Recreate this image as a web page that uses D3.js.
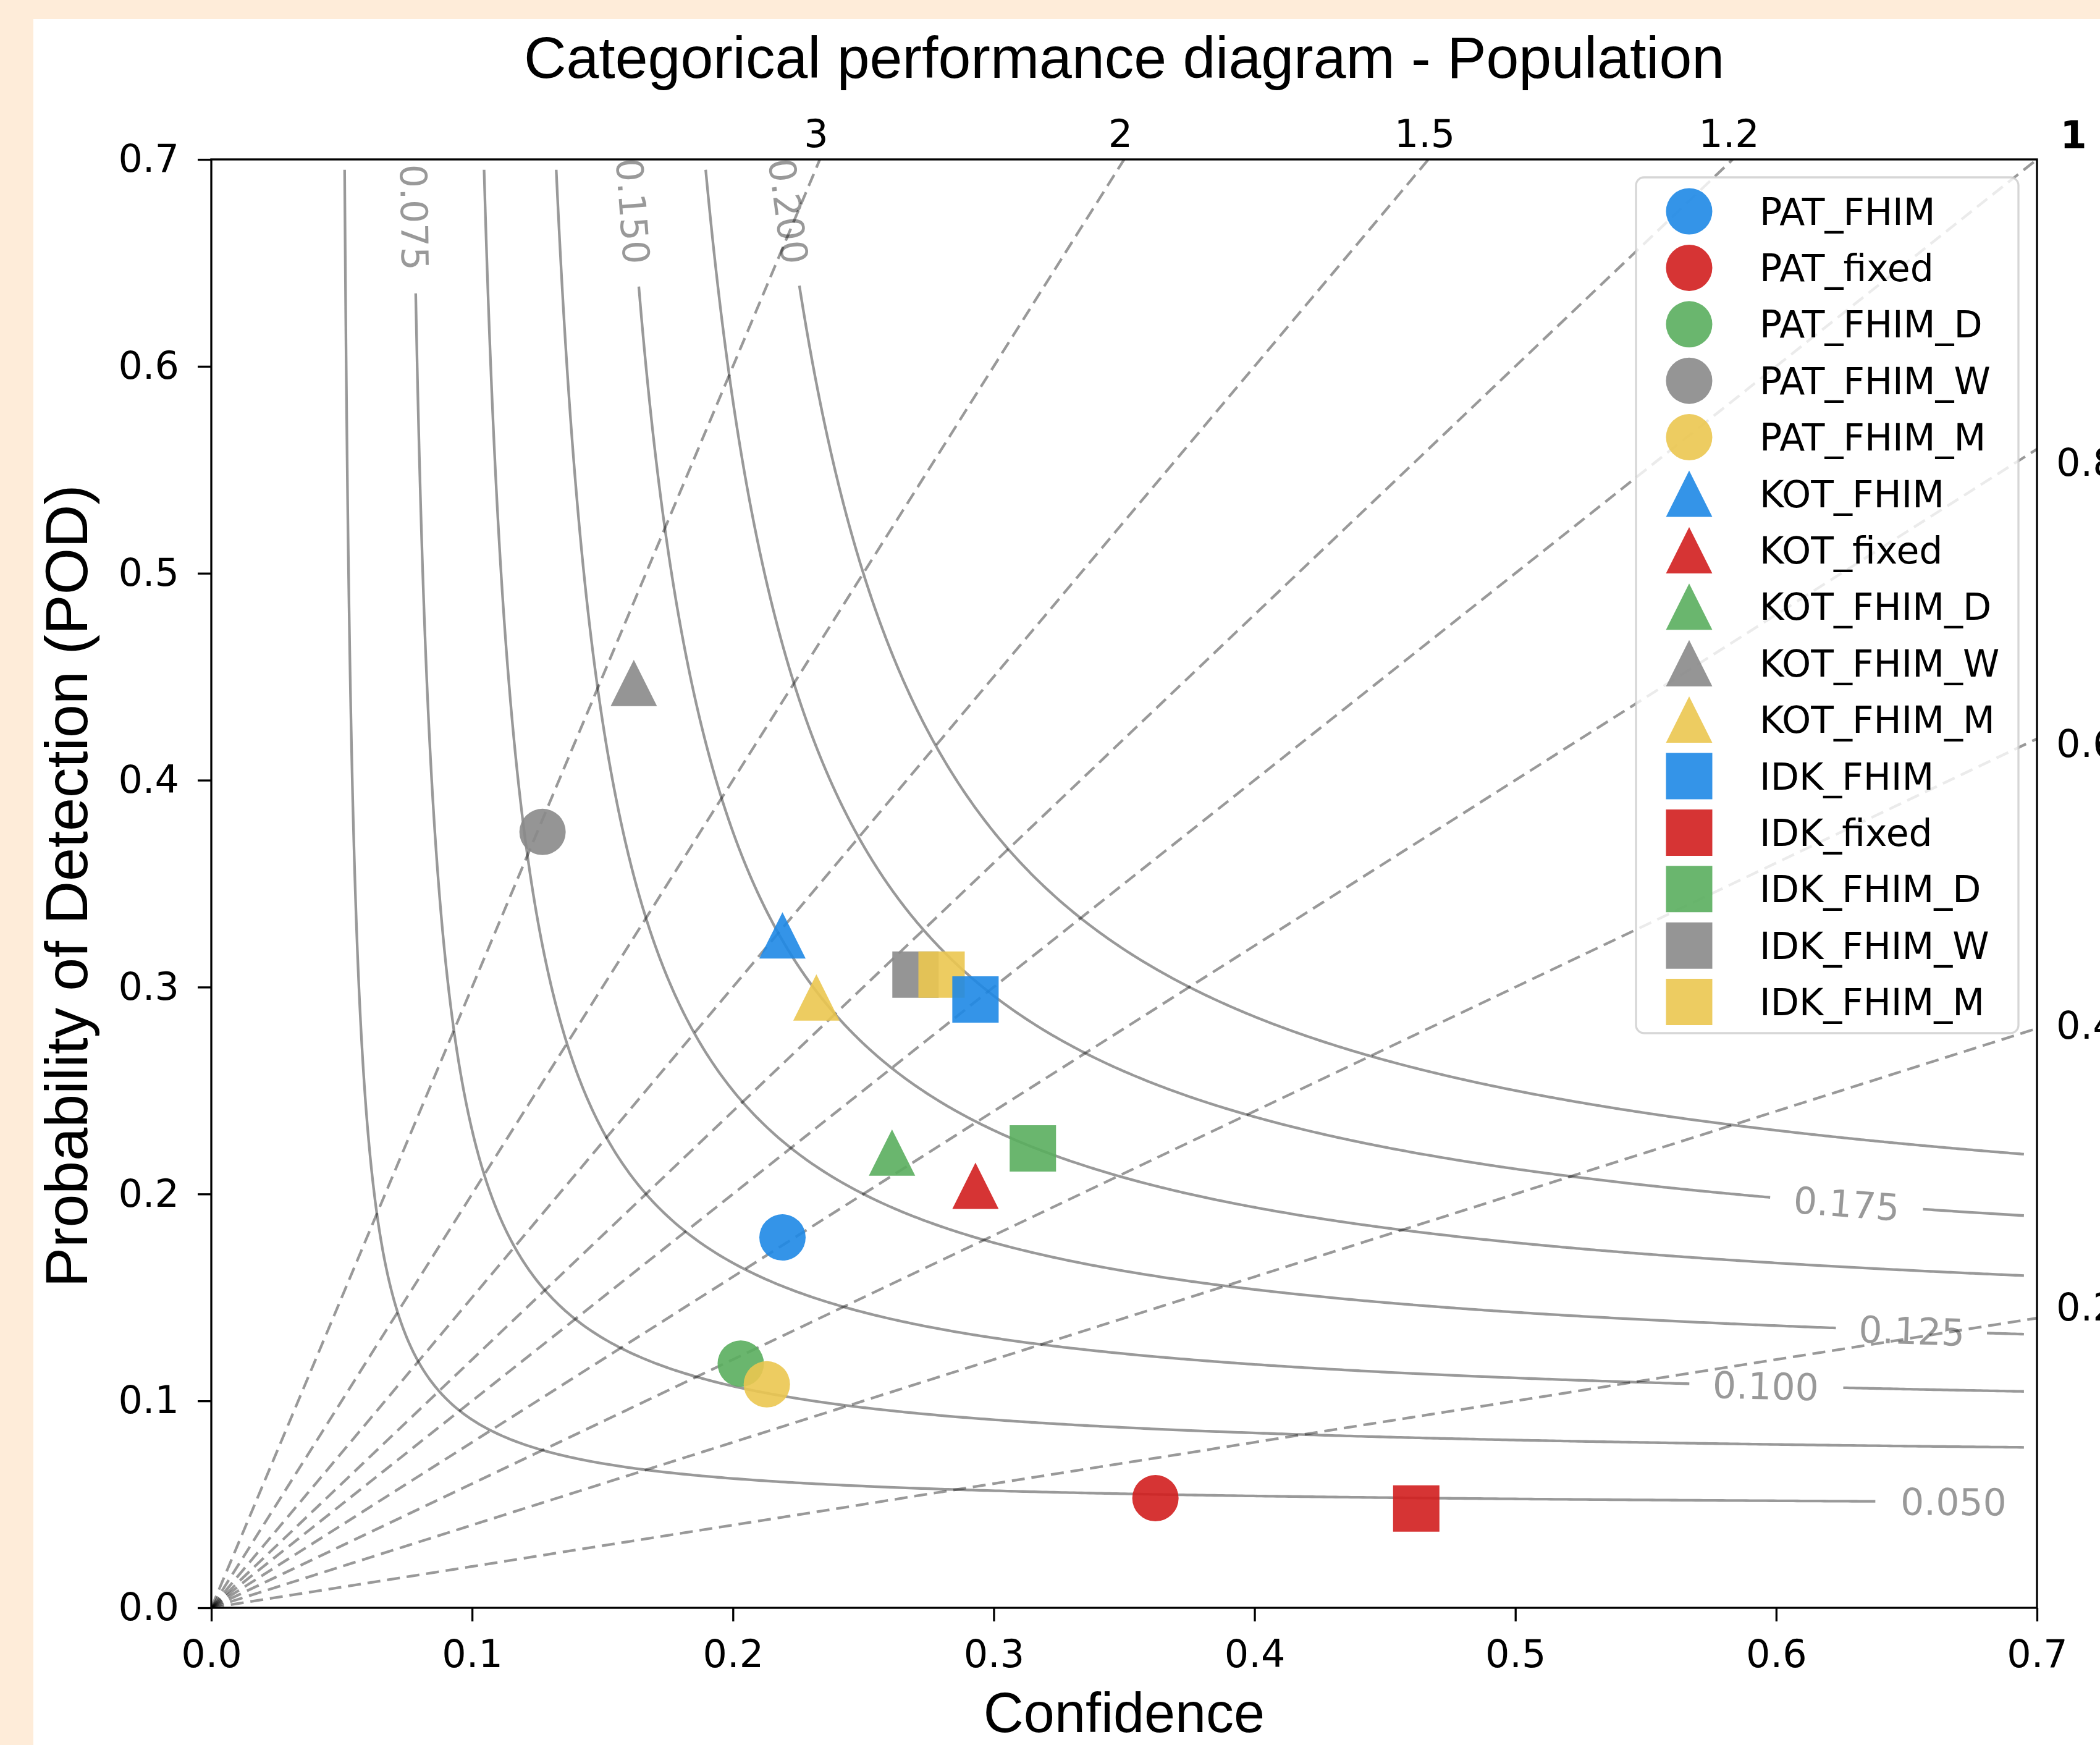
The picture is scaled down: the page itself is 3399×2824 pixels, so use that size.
<!DOCTYPE html>
<html>
<head>
<meta charset="utf-8">
<script src="https://cdn.jsdelivr.net/npm/d3@7"></script>
<style>
	body {margin: 0; background: #feecd9;}
	svg {display: block;}
</style>
</head>
<body>
<div id="chart"></div>
<script>
// values _________________________________________
const variants = ["FHIM", "fixed", "FHIM_D", "FHIM_W", "FHIM_M"]
const variantColors = ["#1e88e5", "#d21e1e", "#5aae5e", "#8a8a8a", "#ebc650"]

const patConfidence = [0.219, 0.362, 0.203, 0.127, 0.213]
const patPOD        = [0.179, 0.053, 0.118, 0.375, 0.108]
const kotConfidence = [0.219, 0.293, 0.261, 0.162, 0.232]
const kotPOD        = [0.325, 0.204, 0.220, 0.447, 0.295]
const idkConfidence = [0.293, 0.462, 0.315, 0.270, 0.280]
const idkPOD        = [0.294, 0.048, 0.222, 0.306, 0.306]

const csiLevels = [0.05, 0.075, 0.1, 0.125, 0.15, 0.175, 0.2]
const biasLevels = [0.2, 0.4, 0.6, 0.8, 1, 1.2, 1.5, 2, 3]
const axisTicks = [0, 0.1, 0.2, 0.3, 0.4, 0.5, 0.6, 0.7]

// where clabel put the csi labels (side of the plot, coordinate along it)
const csiLabelSide = ["right", "top", "right", "right", "top", "right", "top"]
const csiLabelAt   = [0.668, 0.672, 0.596, 0.652, 0.675, 0.627, 0.675]


class perfDiagram {
	constructor(parentElement) {
		this.parentElement = parentElement

		this.data = []
		let sites = [["PAT", "circle", patConfidence, patPOD],
			["KOT", "triangle", kotConfidence, kotPOD],
			["IDK", "square", idkConfidence, idkPOD]]
		sites.forEach(s => {
			variants.forEach((v, i) => {
				this.data.push({name: s[0] + "_" + v, shape: s[1], color: variantColors[i],
					sr: s[2][i], pod: s[3][i], order: v === "FHIM" ? 1 : 0})
			})
		})

		this.initVis()
	}

	initVis() {
		let vis = this

		vis.fullWidth = 3399
		vis.fullHeight = 2824
		vis.margin = {top: 258, right: 102, bottom: 222, left: 342}
		vis.width = vis.fullWidth - vis.margin.left - vis.margin.right
		vis.height = vis.fullHeight - vis.margin.top - vis.margin.bottom
		vis.gridMax = 0.695
		vis.lineW = 4.3

		vis.svg = d3.select("#" + vis.parentElement).append("svg")
			.attr("width", vis.fullWidth)
			.attr("height", vis.fullHeight)

		// peach page with the white figure on it
		vis.svg.append("rect").attr("width", vis.fullWidth).attr("height", vis.fullHeight).attr("fill", "#feecd9")
		vis.svg.append("rect").attr("x", 54).attr("y", 31)
			.attr("width", vis.fullWidth - 54).attr("height", vis.fullHeight - 31).attr("fill", "white")

		vis.g = vis.svg.append("g")
			.attr("transform", `translate(${vis.margin.left},${vis.margin.top})`)

		vis.xScale = d3.scaleLinear().domain([0, 0.7]).range([0, vis.width])
		vis.yScale = d3.scaleLinear().domain([0, 0.7]).range([vis.height, 0])

		vis.g.append("defs").append("clipPath")
			.attr("id", "clipAxes")
			.append("rect")
			.attr("width", vis.width)
			.attr("height", vis.height)

		vis.lineGen = d3.line()
			.x(d => vis.xScale(d[0]))
			.y(d => vis.yScale(d[1]))

		vis.drawBias()
		vis.drawCSI()
		vis.drawAxes()
		vis.drawMarkers()
		vis.drawLegend()
	}

	drawBias() {
		let vis = this

		vis.g.append("g")
			.attr("clip-path", "url(#clipAxes)")
			.selectAll(".bias")
			.data(biasLevels)
			.join("path")
			.attr("class", "bias")
			.attr("d", b => vis.lineGen(b >= 1 ? [[0, 0], [0.7 / b, 0.7]] : [[0, 0], [0.7, 0.7 * b]]))
			.attr("fill", "none")
			.attr("stroke", "black")
			.attr("stroke-opacity", 0.4)
			.attr("stroke-width", vis.lineW)
			.attr("stroke-dasharray", "21,11")

		// bias labels round the top and right edges
		let labels = vis.g.append("g")
			.attr("font-family", "DejaVu Sans")
			.attr("font-size", 62)

		labels.selectAll(".biasTop")
			.data(biasLevels.filter(b => b > 1))
			.join("text")
			.attr("class", "biasTop")
			.attr("x", b => vis.width / b - 6)
			.attr("y", -20)
			.attr("text-anchor", "middle")
			.text(b => b)

		// right side labels sit a touch towards the middle
		labels.selectAll(".biasRight")
			.data(biasLevels.filter(b => b < 1))
			.join("text")
			.attr("class", "biasRight")
			.attr("x", vis.width + 31)
			.attr("y", b => vis.height * (1 - (0.0136 + 0.972 * b)))
			.attr("dy", "0.36em")
			.text(b => b)

		labels.append("text")
			.attr("x", vis.width + 59)
			.attr("y", -18)
			.attr("text-anchor", "middle")
			.attr("font-weight", "bold")
			.text(biasLevels.find(b => b === 1))
	}

	csiCurve(c) {
		let vis = this
		let k = 1 / c + 1
		let s = 2 / k
		let pts = []
		// upper arm: walk y down to the symmetric point, then x out to the edge
		let n = 400
		for (let i = 0; i <= n; i++) {
			let yv = vis.gridMax - (vis.gridMax - s) * i / n
			pts.push([1 / (k - 1 / yv), yv])
		}
		for (let i = 1; i <= n; i++) {
			let xv = s + (vis.gridMax - s) * i / n
			pts.push([xv, 1 / (k - 1 / xv)])
		}
		return pts
	}

	drawCSI() {
		let vis = this

		let cg = vis.g.append("g").attr("clip-path", "url(#clipAxes)")
		let lg = vis.g.append("g")
			.attr("font-family", "DejaVu Sans")
			.attr("font-size", 60)
			.attr("fill", "black")
			.attr("fill-opacity", 0.4)

		csiLevels.forEach((c, i) => {
			let pts = vis.csiCurve(c)
			let px = pts.map(p => [vis.xScale(p[0]), vis.yScale(p[1])])

			// label point on the curve
			let at = csiLabelAt[i]
			let lp = csiLabelSide[i] === "top" ? [1 / (1 / c + 1 - 1 / at), at] : [at, 1 / (1 / c + 1 - 1 / at)]
			let cx = vis.xScale(lp[0]), cy = vis.yScale(lp[1])

			// tangent from the nearest pixel points
			let idx = d3.minIndex(px, p => (p[0] - cx) ** 2 + (p[1] - cy) ** 2)
			let a = px[Math.max(idx - 2, 0)], b = px[Math.min(idx + 2, px.length - 1)]
			let ang = Math.atan2(b[1] - a[1], b[0] - a[0]) * 180 / Math.PI
			if (ang > 90) ang -= 180
			if (ang <= -90) ang += 180

			let label = lg.append("text")
				.attr("transform", `translate(${cx},${cy}) rotate(${ang})`)
				.attr("text-anchor", "middle")
				.attr("dy", "0.36em")
				.text(d3.format(".3f")(c))
			let half = label.node().getComputedTextLength() / 2 + 35

			// break the line where the label sits
			let segs = [[]]
			px.forEach(p => {
				if (Math.hypot(p[0] - cx, p[1] - cy) < half) {
					if (segs[segs.length - 1].length) segs.push([])
				} else segs[segs.length - 1].push(p)
			})
			segs.filter(sg => sg.length > 1).forEach(sg => {
				cg.append("path")
					.attr("d", d3.line()(sg))
					.attr("fill", "none")
					.attr("stroke", "black")
					.attr("stroke-opacity", 0.4)
					.attr("stroke-width", vis.lineW)
			})
		})
	}

	drawAxes() {
		let vis = this

		vis.xAxis = d3.axisBottom(vis.xScale)
			.tickValues(axisTicks)
			.tickFormat(d3.format(".1f"))
			.tickSizeInner(22).tickSizeOuter(0).tickPadding(30)
		vis.yAxis = d3.axisLeft(vis.yScale)
			.tickValues(axisTicks)
			.tickFormat(d3.format(".1f"))
			.tickSizeInner(22).tickSizeOuter(0).tickPadding(30)

		let xg = vis.g.append("g")
			.attr("transform", `translate(0,${vis.height})`)
			.call(vis.xAxis)
		let yg = vis.g.append("g").call(vis.yAxis)

		;[xg, yg].forEach(ax => {
			ax.select(".domain").remove()
			ax.selectAll("line").attr("stroke", "black").attr("stroke-width", 3.3)
			ax.selectAll("text").attr("font-family", "DejaVu Sans").attr("font-size", 62).attr("fill", "black")
		})

		vis.g.append("rect")
			.attr("width", vis.width)
			.attr("height", vis.height)
			.attr("fill", "none")
			.attr("stroke", "black")
			.attr("stroke-width", 3.3)

		vis.svg.append("text")
			.attr("x", vis.margin.left + vis.width / 2)
			.attr("y", 126)
			.attr("text-anchor", "middle")
			.attr("font-family", "Liberation Sans")
			.attr("font-size", 95)
			.text("Categorical performance diagram - Population")

		vis.svg.append("text")
			.attr("x", vis.margin.left + vis.width / 2)
			.attr("y", 2803)
			.attr("text-anchor", "middle")
			.attr("font-family", "Liberation Sans")
			.attr("font-size", 90)
			.text("Confidence")

		vis.svg.append("text")
			.attr("transform", `translate(141,${vis.margin.top + vis.height / 2 + 4}) rotate(-90)`)
			.attr("text-anchor", "middle")
			.attr("font-family", "Liberation Sans")
			.attr("font-size", 97)
			.text("Probability of Detection (POD)")
	}

	symbolPath(shape, size) {
		// matplotlib markers: circle diameter, square side and triangle width/height all = size
		let h = size / 2
		if (shape === "circle") return d3.symbol(d3.symbolCircle, Math.PI * h * h)()
		if (shape === "square") return d3.symbol(d3.symbolSquare, size * size)()
		return `M0,${-h}L${h},${h}L${-h},${h}Z`
	}

	drawMarkers() {
		let vis = this
		vis.markerSize = 75

		let ordered = vis.data.slice().sort((a, b) => a.order - b.order)
		vis.g.append("g")
			.selectAll(".marker")
			.data(ordered)
			.join("path")
			.attr("class", "marker")
			.attr("transform", d => `translate(${vis.xScale(d.sr)},${vis.yScale(d.pod)})`)
			.attr("d", d => vis.symbolPath(d.shape, vis.markerSize))
			.attr("fill", d => d.color)
			.attr("fill-opacity", 0.9)
	}

	drawLegend() {
		let vis = this
		let lx = 2648, ly = 287, rowH = 91.4

		let leg = vis.svg.append("g")
		leg.append("rect")
			.attr("x", lx).attr("y", ly)
			.attr("width", 619).attr("height", 1385)
			.attr("rx", 13)
			.attr("fill", "white").attr("fill-opacity", 0.8)
			.attr("stroke", "#cccccc").attr("stroke-opacity", 0.8)
			.attr("stroke-width", 3.3)

		let rows = leg.selectAll(".row")
			.data(vis.data)
			.join("g")
			.attr("class", "row")
			.attr("transform", (d, i) => `translate(${lx + 86},${ly + 55 + i * rowH})`)

		rows.append("path")
			.attr("d", d => vis.symbolPath(d.shape, vis.markerSize))
			.attr("fill", d => d.color)
			.attr("fill-opacity", 0.9)

		rows.append("text")
			.attr("x", 114)
			.attr("dy", "0.36em")
			.attr("font-family", "DejaVu Sans")
			.attr("font-size", 60)
			.text(d => d.name)
	}
}

new perfDiagram("chart")
</script>
</body>
</html>
